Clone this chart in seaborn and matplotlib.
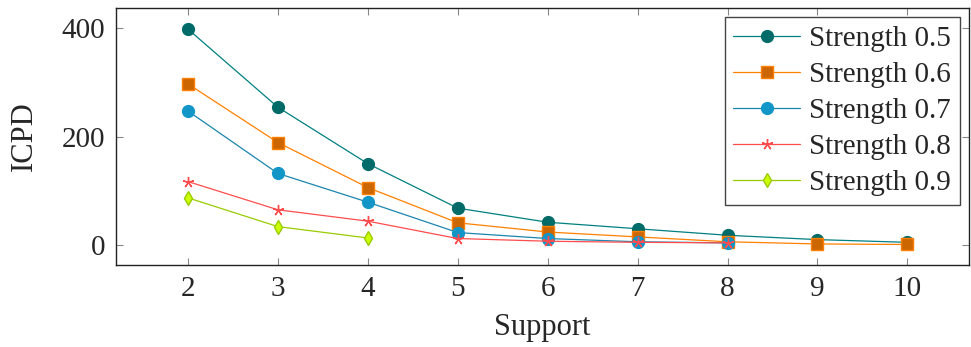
import pandas as pd
import numpy as np
import seaborn as sns
import matplotlib.pyplot as plt

# Data
support = [2, 3, 4, 5, 6, 7, 8, 9, 10]
s05 = [398, 254, 150, 68, 42, 30, 18, 10, 5]
s06 = [297, 189, 106, 41, 24, 15, 6, 2, 1]
s07 = [247, 132, 79, 23, 12, 6, 4]
s08 = [117, 65, 44, 12, 7, 5, 4]
s09 = [87, 34, 13]
labels = ["Strength 0.5", "Strength 0.6", "Strength 0.7", "Strength 0.8", "Strength 0.9"]

sns.set_style("ticks")
plt.rcParams['font.family'] = ['Liberation Serif', 'DejaVu Serif']

fig = plt.figure(figsize=(9.71, 3.47), dpi=100)
ax = fig.add_axes([0.1195, 0.236, 0.878, 0.741])

series = [s05, s06, s07, s08, s09]
lines = ["#008080", "#FF8000", "#1A86AE", "#FF4D4D", "#99CC00"]
faces = ["#006B68", "#CC6600", "#1296C8", "#FF4D4D", "#CCFF00"]
edges = ["#006B68", "#FF8000", "#1296C8", "#FF4D4D", "#99CC00"]
markers = ["o", "s", "o", (5, 2, 0), "d"]
sizes = [8.5, 8, 8.5, 8, 7]

for vals, lab, lc, fc, ec, m, ms in zip(series, labels, lines, faces, edges, markers, sizes):
    df = pd.DataFrame({"Support": support[:len(vals)], "ICPD": vals})
    sns.lineplot(data=df, x="Support", y="ICPD", ax=ax, color=lc, lw=0.9,
                 marker=m, markersize=ms, markerfacecolor=fc, markeredgecolor=ec,
                 markeredgewidth=1.0, label=lab)

ax.set_xlim(1.2, 10.68)
ax.set_ylim(-37, 437)
ax.set_xticks(support)
ax.set_yticks([0, 200, 400])
ax.tick_params(direction="in", length=5, color="#888888", labelsize=21,
               top=True, right=True, pad=8)
ax.set_xlabel("Support", fontsize=22, labelpad=8)
ax.set_ylabel("ICPD", fontsize=22, labelpad=16)
for s in ax.spines.values():
    s.set_color("#222222")
    s.set_linewidth(1.0)

leg = ax.legend(loc="upper right", fontsize=21, frameon=True, fancybox=False,
                edgecolor="#444444", framealpha=1, borderpad=0.3,
                labelspacing=0.33, handlelength=2.3, handletextpad=0.3,
                borderaxespad=0.3)
leg.get_frame().set_linewidth(1.0)

fig.savefig("out.png", dpi=100)
